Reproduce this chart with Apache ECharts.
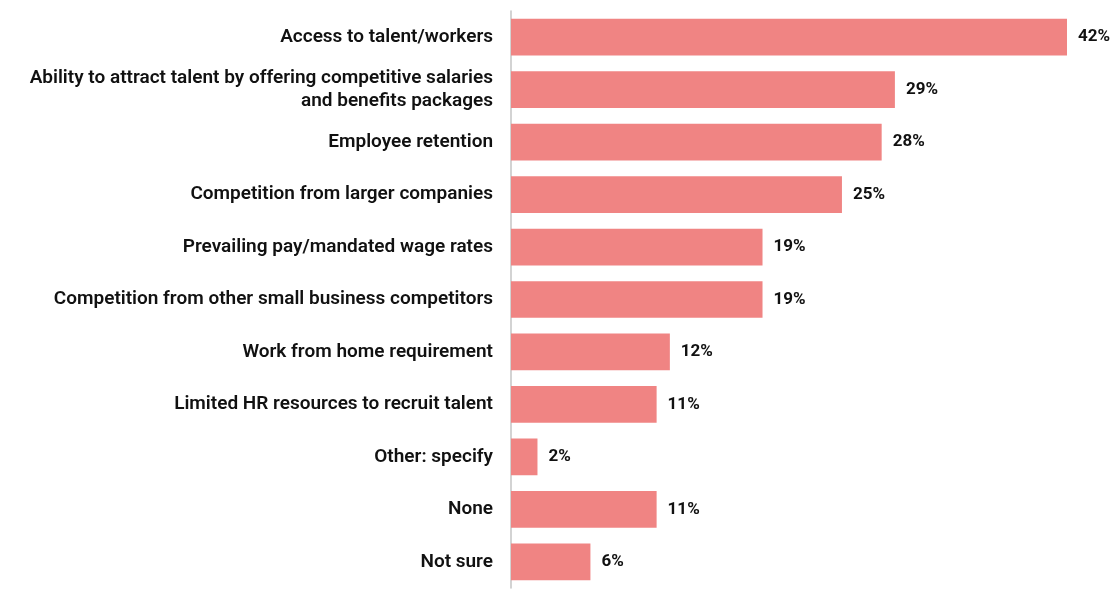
<!DOCTYPE html>
<html>
<head>
<meta charset="utf-8">
<script src="https://cdn.jsdelivr.net/npm/echarts@6/dist/echarts.min.js"></script>
<style>
  html, body { margin: 0; padding: 0; background: #ffffff; }
  #chart { width: 1115px; height: 592px; }
</style>
</head>
<body>
<div id="chart"></div>
<script>
// Hiring challenges, share of respondents (%)
const categories = [
  'Access to talent/workers',
  'Ability to attract talent by offering competitive salaries\nand benefits packages',
  'Employee retention',
  'Competition from larger companies',
  'Prevailing pay/mandated wage rates',
  'Competition from other small business competitors',
  'Work from home requirement',
  'Limited HR resources to recruit talent',
  'Other: specify',
  'None',
  'Not sure'
];
const values = [42, 29, 28, 25, 19, 19, 12, 11, 2, 11, 6];

const chart = echarts.init(document.getElementById('chart'), null, { renderer: 'canvas' });

chart.setOption({
  animation: false,
  backgroundColor: '#ffffff',
  grid: { left: 511, right: 48, top: 11, bottom: 4, containLabel: false },
  xAxis: {
    type: 'value',
    min: 0,
    max: 42,
    show: false
  },
  yAxis: {
    type: 'category',
    data: categories,
    inverse: true,
    axisLine: { show: true, lineStyle: { color: '#c4c4c4', width: 1.5 } },
    axisTick: { show: false },
    splitLine: { show: false },
    axisLabel: {
      margin: 18,
      color: '#111111',
      fontFamily: 'Roboto, "Open Sans", sans-serif',
      fontWeight: 600,
      fontSize: 19,
      lineHeight: 23,
      padding: [5, 0, 0, 0],
      align: 'right'
    }
  },
  series: [{
    type: 'bar',
    data: values,
    barCategoryGap: '30%',
    itemStyle: { color: '#f08483' },
    label: {
      show: true,
      position: 'right',
      distance: 11,
      formatter: p => p.value + '%',
      color: '#111111',
      fontFamily: 'Roboto, "Open Sans", sans-serif',
      fontWeight: 'bold',
      fontSize: 17,
      padding: [4, 0, 0, 0]
    }
  }]
});
</script>
</body>
</html>
